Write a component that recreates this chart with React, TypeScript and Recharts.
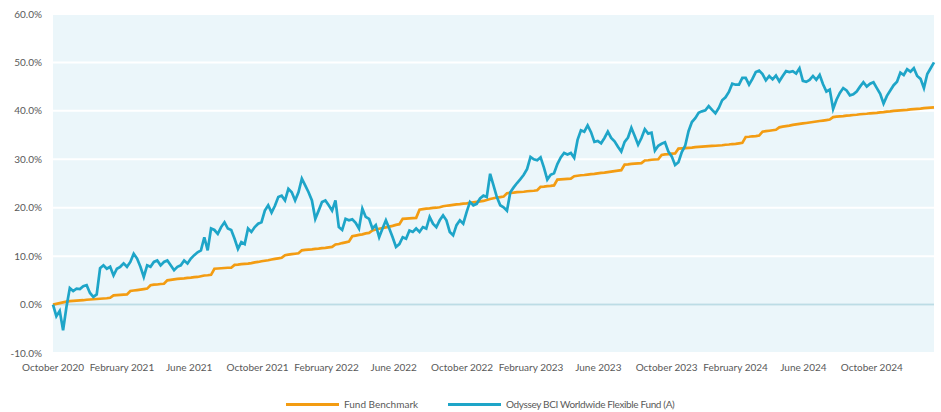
import React from 'react';
import { LineChart, Line, XAxis, YAxis, CartesianGrid, ReferenceLine } from 'recharts';

const DAY = 86400000;
const START = Date.UTC(2020, 9, 1);
const STEP_DAYS = 6;

// cumulative return (%), one reading every 6 days from 1 Oct 2020
const FUND = [
  0.0, -2.4, -1.3, -5.3, -0.5, 3.4, 2.8, 3.3, 3.2, 3.8,
  4.0, 2.4, 1.6, 2.1, 7.5, 8.1, 7.4, 7.8, 6.0, 7.4,
  7.8, 8.5, 7.8, 8.8, 10.5, 9.5, 7.8, 5.7, 8.1, 7.8,
  8.8, 9.1, 8.1, 8.8, 9.1, 8.1, 7.1, 7.8, 8.1, 9.1,
  8.5, 9.5, 10.2, 10.8, 11.2, 13.9, 11.2, 15.7, 15.4, 14.6,
  16.0, 17.0, 15.7, 15.4, 13.6, 11.5, 12.9, 12.5, 15.7, 15.0,
  16.0, 16.7, 17.0, 19.4, 20.5, 19.0, 20.4, 22.2, 22.5, 21.5,
  23.9, 23.2, 21.5, 23.2, 26.0, 24.6, 23.2, 21.5, 17.7, 19.4,
  21.2, 21.5, 20.5, 19.4, 21.5, 16.0, 15.4, 17.7, 17.4, 17.6,
  16.9, 15.7, 19.8, 18.1, 17.7, 15.7, 16.4, 13.9, 15.7, 17.4,
  15.7, 13.9, 11.9, 12.5, 13.9, 13.6, 15.3, 15.0, 15.7, 15.0,
  16.0, 15.7, 18.1, 16.7, 16.0, 17.4, 18.4, 17.4, 15.0, 14.3,
  16.4, 17.4, 16.7, 19.1, 21.2, 20.5, 20.8, 21.9, 22.5, 22.2,
  27.0, 24.6, 22.2, 20.5, 20.1, 19.4, 23.2, 24.2, 25.1, 25.9,
  26.8, 28.0, 30.5, 30.0, 29.8, 30.4, 28.3, 25.8, 26.8, 27.1,
  29.0, 30.4, 31.3, 31.0, 31.3, 30.3, 34.0, 36.0, 35.7, 37.0,
  35.6, 33.6, 33.8, 33.3, 34.4, 35.7, 34.4, 33.7, 32.6, 31.6,
  33.6, 34.5, 36.5, 34.8, 33.0, 34.4, 36.2, 35.3, 35.5, 31.8,
  32.8, 33.2, 33.5, 31.6, 30.6, 28.8, 29.4, 31.5, 32.8, 35.8,
  37.7, 38.5, 39.6, 39.9, 40.1, 41.0, 40.2, 39.5, 40.6, 42.2,
  42.8, 43.9, 45.6, 45.4, 45.4, 46.8, 46.8, 45.4, 46.6, 48.0,
  48.3, 47.6, 46.3, 47.2, 46.5, 47.3, 46.1, 47.2, 48.2, 48.0,
  48.2, 47.7, 48.8, 46.2, 46.0, 46.4, 47.2, 46.4, 47.4, 45.5,
  44.0, 44.4, 40.4, 42.3, 43.7, 44.7, 44.2, 43.2, 43.4, 44.0,
  45.0, 45.9, 45.0, 45.6, 45.9, 44.7, 43.5, 41.5, 43.1, 44.2,
  45.3, 46.0, 47.9, 47.4, 48.6, 48.1, 48.8, 47.2, 46.6, 44.7,
  47.6, 48.8, 50.0,
];

const BENCH = [
  0.0, 0.15, 0.3, 0.45, 0.6, 0.7, 0.75, 0.8, 0.85, 0.9,
  1.0, 1.05, 1.1, 1.15, 1.2, 1.25, 1.3, 1.4, 1.9, 1.95,
  2.0, 2.05, 2.1, 2.8, 2.9, 3.0, 3.1, 3.2, 3.3, 4.0,
  4.1, 4.15, 4.25, 4.3, 5.0, 5.1, 5.2, 5.3, 5.35, 5.4,
  5.5, 5.55, 5.65, 5.7, 5.85, 6.0, 6.05, 6.15, 7.4, 7.45,
  7.5, 7.55, 7.6, 7.6, 8.2, 8.25, 8.35, 8.4, 8.45, 8.55,
  8.7, 8.8, 8.95, 9.05, 9.15, 9.3, 9.45, 9.55, 9.65, 10.2,
  10.3, 10.4, 10.5, 10.6, 11.2, 11.3, 11.35, 11.4, 11.5, 11.55,
  11.65, 11.7, 11.8, 11.9, 12.4, 12.5, 12.7, 12.85, 13.0, 14.1,
  14.25, 14.4, 14.5, 14.7, 14.8, 15.3, 15.5, 15.65, 15.8, 15.95,
  16.1, 16.25, 16.45, 16.6, 17.7, 17.75, 17.8, 17.85, 17.9, 19.6,
  19.7, 19.8, 19.85, 19.95, 20.0, 20.1, 20.3, 20.4, 20.5, 20.6,
  20.7, 20.75, 20.85, 20.9, 21.0, 21.1, 21.2, 21.3, 21.4, 21.6,
  21.8, 21.95, 22.1, 22.2, 22.3, 23.0, 23.05, 23.1, 23.2, 23.25,
  23.3, 23.4, 23.45, 23.5, 23.6, 24.3, 24.35, 24.45, 24.5, 24.6,
  25.8, 25.85, 25.9, 25.95, 26.0, 26.5, 26.6, 26.7, 26.75, 26.85,
  26.95, 27.0, 27.1, 27.2, 27.25, 27.35, 27.45, 27.55, 27.65, 27.75,
  28.9, 28.95, 29.05, 29.1, 29.15, 29.2, 29.75, 29.8, 29.9, 29.95,
  30.0, 30.9, 31.0, 31.05, 31.15, 31.2, 32.2, 32.25, 32.3, 32.35,
  32.4, 32.5, 32.55, 32.6, 32.65, 32.7, 32.75, 32.8, 32.85, 32.9,
  33.0, 33.05, 33.15, 33.2, 33.3, 33.4, 34.6, 34.65, 34.75, 34.8,
  34.9, 35.7, 35.8, 35.9, 36.0, 36.1, 36.6, 36.75, 36.85, 36.95,
  37.1, 37.2, 37.3, 37.4, 37.5, 37.6, 37.7, 37.8, 37.9, 38.0,
  38.1, 38.2, 38.7, 38.8, 38.85, 38.9, 39.0, 39.05, 39.15, 39.2,
  39.3, 39.35, 39.4, 39.5, 39.55, 39.6, 39.7, 39.75, 39.85, 39.9,
  40.0, 40.05, 40.1, 40.15, 40.2, 40.3, 40.35, 40.4, 40.45, 40.55,
  40.6, 40.65, 40.7,
];

const TICK_MONTHS: [number, number][] = [
  [2020, 9], [2021, 1], [2021, 5], [2021, 9], [2022, 1], [2022, 5], [2022, 9],
  [2023, 1], [2023, 5], [2023, 9], [2024, 1], [2024, 5], [2024, 9],
];
const TICK_LABELS = [
  'October 2020', 'February 2021', 'June 2021', 'October 2021', 'February 2022',
  'June 2022', 'October 2022', 'February 2023', 'June 2023', 'October 2023',
  'February 2024', 'June 2024', 'October 2024',
];
const Y_TICKS = [-10, 0, 10, 20, 30, 40, 50, 60];

const TICK_DATES = TICK_MONTHS.map(([y, m]) => Date.UTC(y, m, 1));

const data = FUND.map((v, i) => ({
  t: START + i * STEP_DAYS * DAY,
  fund: v,
  bench: BENCH[i],
}));
const END = data[data.length - 1].t;

const ORANGE = '#F39C12';
const BLUE = '#1EA5C8';
const FONT = 'Lato, "Liberation Sans", sans-serif';

const fmtX = (v: number) => {
  const i = TICK_DATES.indexOf(v);
  return i >= 0 ? TICK_LABELS[i] : '';
};

export default function App() {
  return (
    <div style={{ position: 'absolute', left: 0, top: 0, width: 941, height: 412, background: '#fff', fontFamily: FONT }}>
      <LineChart width={941} height={375} data={data} margin={{ top: 14, right: 7, bottom: 0, left: 0 }}>
        <CartesianGrid vertical={false} stroke="#ffffff" strokeWidth={2} fill="#EBF6FA" />
        <XAxis
          dataKey="t"
          type="number"
          domain={[START, END]}
          ticks={TICK_DATES}
          tickFormatter={fmtX}
          interval={0}
          axisLine={false}
          tickLine={false}
          tickMargin={5}
          height={22}
          tick={{ fill: '#595959', fontSize: 10, fontFamily: FONT }}
        />
        <YAxis
          domain={[-10, 60]}
          ticks={Y_TICKS}
          tickFormatter={(v: number) => `${v.toFixed(1)}%`}
          axisLine={false}
          tickLine={false}
          tickMargin={5}
          width={53}
          tick={{ fill: '#595959', fontSize: 10, fontFamily: FONT }}
        />
        <ReferenceLine y={0} stroke="#BCDCE5" strokeWidth={2} />
        <Line type="linear" dataKey="bench" stroke={ORANGE} strokeWidth={2.7} dot={false} isAnimationActive={false} />
        <Line type="linear" dataKey="fund" stroke={BLUE} strokeWidth={2.7} dot={false} isAnimationActive={false} />
      </LineChart>
      <div style={{ position: 'absolute', top: 398, left: 286, display: 'flex', alignItems: 'center', fontSize: 10, color: '#595959', whiteSpace: 'nowrap' }}>
        <span style={{ display: 'inline-block', width: 53, height: 3, background: ORANGE, marginRight: 5 }} />
        <span style={{ width: 104 }}>Fund Benchmark</span>
        <span style={{ display: 'inline-block', width: 53, height: 3, background: BLUE, marginRight: 5 }} />
        <span style={{ letterSpacing: -0.35 }}>Odyssey BCI Worldwide Flexible Fund (A)</span>
      </div>
    </div>
  );
}
